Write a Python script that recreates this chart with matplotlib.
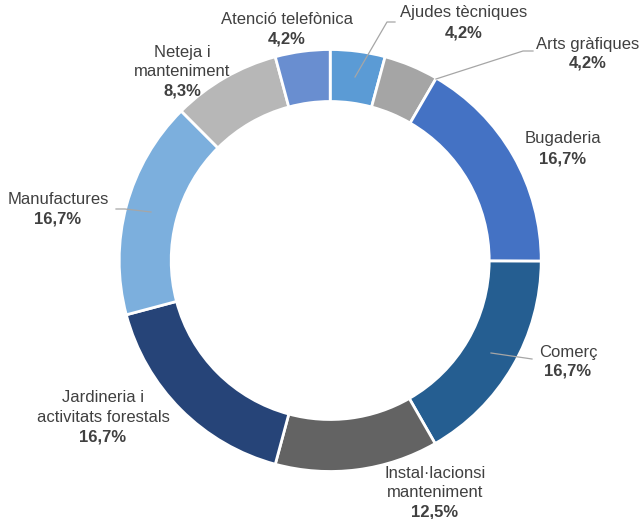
import matplotlib.pyplot as plt

plt.rcParams['font.family'] = ['Liberation Sans', 'DejaVu Sans']

# dades
categories = ["Ajudes tècniques", "Arts gràfiques", "Bugaderia", "Comerç",
              "Instal·lacionsi\nmanteniment", "Jardineria i\nactivitats forestals",
              "Manufactures", "Neteja i\nmanteniment", "Atenció telefònica"]
percentatges = [4.2, 4.2, 16.7, 16.7, 12.5, 16.7, 16.7, 8.3, 4.2]
colors = ["#5B9BD5", "#A5A5A5", "#4472C4", "#255E91", "#636363",
          "#264478", "#7CAFDD", "#B7B7B7", "#698ED0"]

W, H = 643, 519
fig = plt.figure(figsize=(W / 100, H / 100), dpi=100)
ax = fig.add_axes([0, 0, 1, 1])

cx, cy, R = 330.2, H - 260.5, 211
ax.pie(percentatges, colors=colors, startangle=90, counterclock=False,
       center=(cx, cy), radius=R, frame=True,
       wedgeprops=dict(width=52, edgecolor='white', linewidth=2))
ax.set_xlim(0, W)
ax.set_ylim(0, H)
ax.set_aspect('equal')
ax.axis('off')

# posicions de les etiquetes (píxels, centre de la primera línia)
label_pos = [(464, 13), (588, 44), (563, 139), (568, 352), (435, 473),
             (103, 398), (58, 199), (182, 52), (287, 20)]
line_h = 19.5
txt_color = "#404040"
for name, val, (x, y) in zip(categories, percentatges, label_pos):
    lines = name.split("\n")
    for i, ln in enumerate(lines):
        ax.text(x, H - (y + i * line_h), ln, ha='center', va='center',
                fontsize=12, color=txt_color)
    ax.text(x, H - (y + len(lines) * line_h), f"{val:.1f}%".replace(".", ","),
            ha='center', va='center', fontsize=12, fontweight='bold', color=txt_color)

# línies guia
leaders = [[(355, 77), (387, 22), (395, 22)],
           [(436, 79), (523, 51), (533, 51)],
           [(491, 353), (532, 359)],
           [(151, 212), (125, 209), (116, 209)]]
for pts in leaders:
    xs = [p[0] for p in pts]
    ys = [H - p[1] for p in pts]
    ax.plot(xs, ys, color="#A6A6A6", lw=0.9)

fig.savefig("out.png", dpi=100, facecolor='white')
